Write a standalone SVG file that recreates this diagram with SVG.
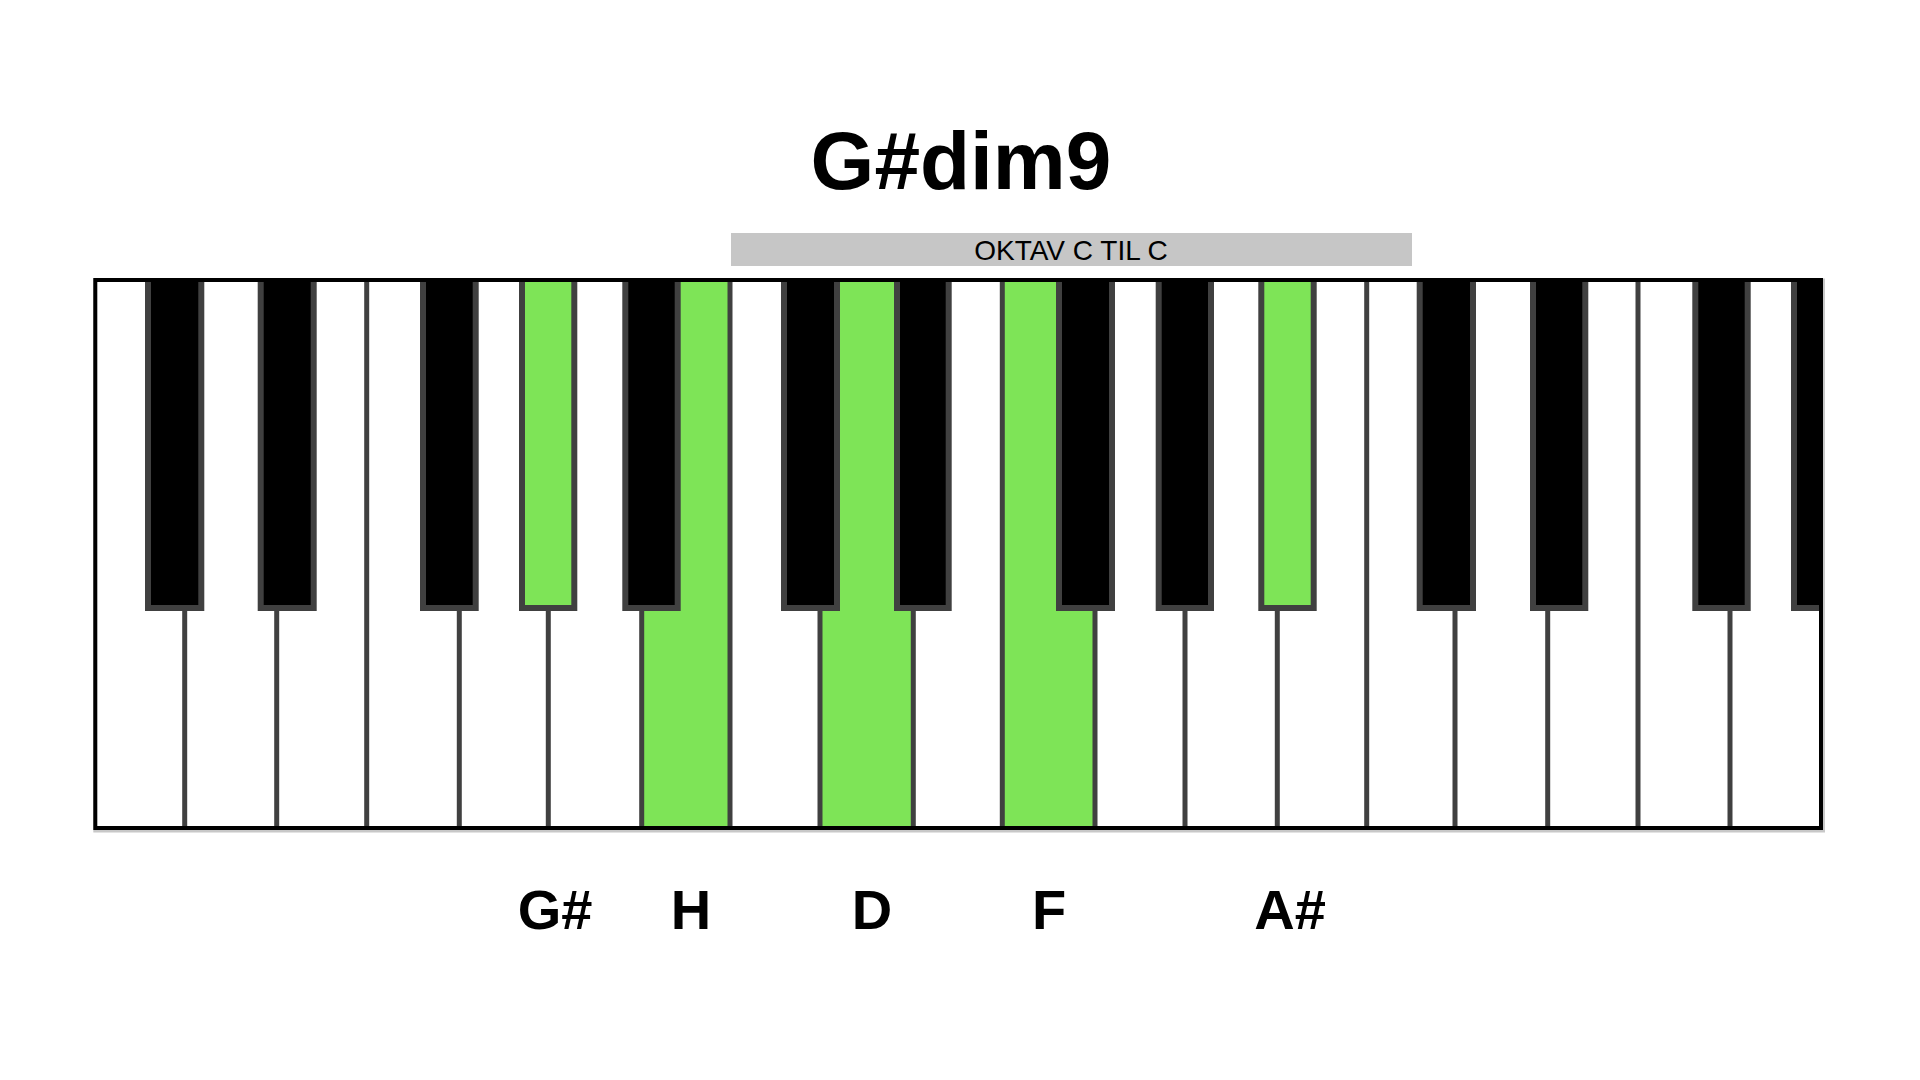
<svg xmlns="http://www.w3.org/2000/svg" width="1920" height="1080" viewBox="0 0 1920 1080">
<style>
.bg{fill:#ffffff}
.wk{fill:#ffffff;stroke:none}
.wk.on{fill:#7ee457}
.sep{stroke:#404040;stroke-width:5;fill:none}
.bk{fill:#000000;stroke:#404040;stroke-width:6}
.bk.on{fill:#7ee457}
.frame{fill:none;stroke:#000000;stroke-width:4}
.shadow{fill:none;stroke:#c8c8c8;stroke-width:6}
.title{font-family:"Liberation Sans",Arial,Helvetica,sans-serif;font-weight:bold;font-size:82px;fill:#000;text-anchor:middle}
.bar{fill:#c6c6c6}
.bartext{font-family:"Liberation Sans",Arial,Helvetica,sans-serif;font-size:28px;fill:#000;text-anchor:middle}
.lbl{font-family:"Liberation Sans",Arial,Helvetica,sans-serif;font-weight:bold;font-size:56px;fill:#000;text-anchor:middle}
</style>
<defs>
<clipPath id="kbclip"><rect x="95.3" y="280" width="1725.7" height="548"/></clipPath>
</defs>
<rect class="bg" x="0" y="0" width="1920" height="1080"/>

<g id="title"><text class="title" x="961" y="189">G#dim9</text></g>

<g id="octave-bar">
<rect class="bar" x="731" y="233" width="681" height="33"/>
<text class="bartext" x="1071" y="260">OKTAV C TIL C</text>
</g>

<rect class="shadow" x="95.3" y="280" width="1725.7" height="548" transform="translate(1,1.5)"/>

<g id="keyboard" clip-path="url(#kbclip)">
<g id="white-keys">
<rect id="wk-C1" class="wk" x="95.3" y="280" width="89.4" height="548"/>
<rect id="wk-D1" class="wk" x="184.7" y="280" width="92" height="548"/>
<rect id="wk-E1" class="wk" x="276.7" y="280" width="90" height="548"/>
<rect id="wk-F1" class="wk" x="366.7" y="280" width="92.6" height="548"/>
<rect id="wk-G1" class="wk" x="459.3" y="280" width="89" height="548"/>
<rect id="wk-A1" class="wk" x="548.3" y="280" width="93.4" height="548"/>
<rect id="wk-H1" class="wk on" x="641.7" y="280" width="88.3" height="548"/>
<rect id="wk-C2" class="wk" x="730" y="280" width="90" height="548"/>
<rect id="wk-D2" class="wk on" x="820" y="280" width="93.3" height="548"/>
<rect id="wk-E2" class="wk" x="913.3" y="280" width="89" height="548"/>
<rect id="wk-F2" class="wk on" x="1002.3" y="280" width="92.7" height="548"/>
<rect id="wk-G2" class="wk" x="1095" y="280" width="90" height="548"/>
<rect id="wk-A2" class="wk" x="1185" y="280" width="92.3" height="548"/>
<rect id="wk-H2" class="wk" x="1277.3" y="280" width="89.4" height="548"/>
<rect id="wk-C3" class="wk" x="1366.7" y="280" width="88.3" height="548"/>
<rect id="wk-D3" class="wk" x="1455" y="280" width="92.7" height="548"/>
<rect id="wk-E3" class="wk" x="1547.7" y="280" width="90.3" height="548"/>
<rect id="wk-F3" class="wk" x="1638" y="280" width="92" height="548"/>
<rect id="wk-G3" class="wk" x="1730" y="280" width="91" height="548"/>
</g>
<g id="separators">
<line class="sep" x1="184.7" y1="280" x2="184.7" y2="828"/>
<line class="sep" x1="276.7" y1="280" x2="276.7" y2="828"/>
<line class="sep" x1="366.7" y1="280" x2="366.7" y2="828"/>
<line class="sep" x1="459.3" y1="280" x2="459.3" y2="828"/>
<line class="sep" x1="548.3" y1="280" x2="548.3" y2="828"/>
<line class="sep" x1="641.7" y1="280" x2="641.7" y2="828"/>
<line class="sep" x1="730" y1="280" x2="730" y2="828"/>
<line class="sep" x1="820" y1="280" x2="820" y2="828"/>
<line class="sep" x1="913.3" y1="280" x2="913.3" y2="828"/>
<line class="sep" x1="1002.3" y1="280" x2="1002.3" y2="828"/>
<line class="sep" x1="1095" y1="280" x2="1095" y2="828"/>
<line class="sep" x1="1185" y1="280" x2="1185" y2="828"/>
<line class="sep" x1="1277.3" y1="280" x2="1277.3" y2="828"/>
<line class="sep" x1="1366.7" y1="280" x2="1366.7" y2="828"/>
<line class="sep" x1="1455" y1="280" x2="1455" y2="828"/>
<line class="sep" x1="1547.7" y1="280" x2="1547.7" y2="828"/>
<line class="sep" x1="1638" y1="280" x2="1638" y2="828"/>
<line class="sep" x1="1730" y1="280" x2="1730" y2="828"/>
</g>
<g id="black-keys">
<rect id="bk-Cs1" class="bk" x="148" y="274" width="53.3" height="334"/>
<rect id="bk-Ds1" class="bk" x="260.7" y="274" width="53" height="334"/>
<rect id="bk-Fs1" class="bk" x="423" y="274" width="52.7" height="334"/>
<rect id="bk-Gs1" class="bk on" x="522" y="274" width="52.3" height="334"/>
<rect id="bk-As1" class="bk" x="625.3" y="274" width="52.4" height="334"/>
<rect id="bk-Cs2" class="bk" x="784" y="274" width="53" height="334"/>
<rect id="bk-Ds2" class="bk" x="897" y="274" width="51.7" height="334"/>
<rect id="bk-Fs2" class="bk" x="1059" y="274" width="53" height="334"/>
<rect id="bk-Gs2" class="bk" x="1158.7" y="274" width="52.3" height="334"/>
<rect id="bk-As2" class="bk on" x="1261.3" y="274" width="52.4" height="334"/>
<rect id="bk-Cs3" class="bk" x="1419.7" y="274" width="53.3" height="334"/>
<rect id="bk-Ds3" class="bk" x="1533" y="274" width="52.3" height="334"/>
<rect id="bk-Fs3" class="bk" x="1695.3" y="274" width="52.4" height="334"/>
<rect id="bk-Gs3" class="bk" x="1794" y="274" width="52.4" height="334"/>
</g>
</g>
<rect id="frame" class="frame" x="95.3" y="280" width="1725.7" height="548"/>

<g id="labels">
<text id="lbl-Gs" class="lbl" x="555" y="929">G#</text>
<text id="lbl-H" class="lbl" x="691" y="929">H</text>
<text id="lbl-D" class="lbl" x="872" y="929">D</text>
<text id="lbl-F" class="lbl" x="1049" y="929">F</text>
<text id="lbl-As" class="lbl" x="1290" y="929">A#</text>
</g>
<g id="connectors"></g>
</svg>
